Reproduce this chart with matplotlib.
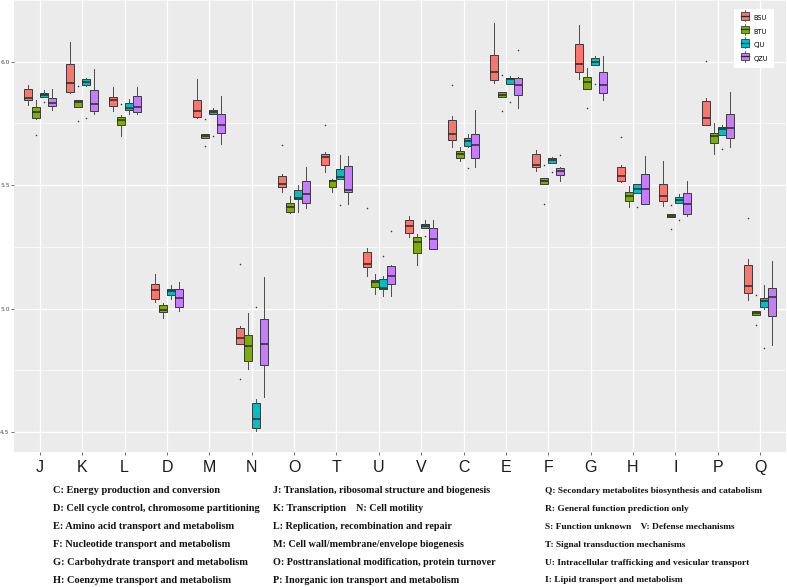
import matplotlib
matplotlib.use("Agg")
import matplotlib.pyplot as plt
from matplotlib.patches import Rectangle
from matplotlib.lines import Line2D
from matplotlib.legend_handler import HandlerBase
import numpy as np

categories = ['J', 'K', 'L', 'D', 'M', 'N', 'O', 'T', 'U', 'V', 'C', 'E', 'F', 'G', 'H', 'I', 'P', 'Q']
groups = ['BSU', 'BTU', 'CJU', 'QZU']
colors = ['#F8766D', '#7CAE00', '#00BFC4', '#C77CFF']

# (whisker low, q1, median, q3, whisker high) per category
bsu_stats = [
    (5.824, 5.846, 5.854, 5.888, 5.904), (5.872, 5.878, 5.915, 5.989, 6.081),
    (5.801, 5.820, 5.843, 5.859, 5.899), (5.028, 5.038, 5.075, 5.100, 5.142),
    (5.771, 5.778, 5.800, 5.843, 5.929), (4.855, 4.855, 4.880, 4.922, 4.930),
    (5.473, 5.492, 5.505, 5.536, 5.546), (5.554, 5.582, 5.616, 5.626, 5.634),
    (5.133, 5.167, 5.180, 5.231, 5.247), (5.288, 5.306, 5.333, 5.358, 5.375),
    (5.656, 5.684, 5.707, 5.763, 5.781), (5.915, 5.926, 5.957, 6.027, 6.157),
    (5.556, 5.573, 5.583, 5.626, 5.642), (5.930, 5.960, 5.992, 6.070, 6.148),
    (5.512, 5.516, 5.536, 5.573, 5.582), (5.415, 5.435, 5.456, 5.503, 5.596),
    (5.745, 5.745, 5.771, 5.839, 5.855), (5.035, 5.065, 5.092, 5.177, 5.200),
]
bsu_out = [[], [], [], [], [], [5.180, 4.714], [5.663], [5.745], [5.408], [],
           [5.904], [], [], [], [5.694], [], [6.003], [5.366]]

btu_stats = [
    (5.766, 5.771, 5.798, 5.816, 5.846), (5.815, 5.815, 5.836, 5.844, 5.844),
    (5.698, 5.742, 5.765, 5.775, 5.783), (4.961, 4.985, 4.996, 5.015, 5.023),
    (5.691, 5.691, 5.699, 5.707, 5.707), (4.757, 4.788, 4.850, 4.891, 4.984),
    (5.386, 5.392, 5.411, 5.429, 5.458), (5.473, 5.492, 5.516, 5.521, 5.525),
    (5.059, 5.086, 5.106, 5.116, 5.140), (5.177, 5.226, 5.270, 5.288, 5.301),
    (5.597, 5.610, 5.626, 5.640, 5.656), (5.858, 5.858, 5.867, 5.876, 5.876),
    (5.504, 5.504, 5.516, 5.528, 5.528), (5.890, 5.890, 5.917, 5.937, 5.976),
    (5.412, 5.435, 5.456, 5.473, 5.496), (5.371, 5.371, 5.376, 5.382, 5.382),
    (5.626, 5.669, 5.700, 5.710, 5.751), (4.973, 4.973, 4.983, 4.992, 4.992),
]
btu_out = [[5.703], [5.902, 5.761], [5.829], [], [5.767, 5.657], [], [], [], [], [],
           [], [5.945, 5.802], [5.583, 5.425], [5.812], [], [5.419, 5.324], [], [5.054, 4.933]]

cju_stats = [
    (5.859, 5.859, 5.866, 5.872, 5.886), (5.902, 5.906, 5.918, 5.929, 5.935),
    (5.788, 5.805, 5.812, 5.832, 5.848), (5.039, 5.056, 5.070, 5.079, 5.094),
    (5.788, 5.788, 5.797, 5.804, 5.812), (4.503, 4.517, 4.552, 4.618, 4.633),
    (5.391, 5.442, 5.449, 5.479, 5.500), (5.523, 5.523, 5.532, 5.567, 5.622),
    (5.051, 5.079, 5.085, 5.120, 5.130), (5.325, 5.325, 5.335, 5.342, 5.360),
    (5.656, 5.660, 5.677, 5.692, 5.707), (5.908, 5.908, 5.929, 5.935, 5.941),
    (5.589, 5.589, 5.600, 5.608, 5.614), (5.987, 5.987, 5.997, 6.016, 6.023),
    (5.469, 5.469, 5.485, 5.505, 5.505), (5.427, 5.427, 5.441, 5.454, 5.465),
    (5.704, 5.704, 5.727, 5.737, 5.745), (5.000, 5.008, 5.032, 5.043, 5.094),
]
cju_out = [[5.836], [5.771], [], [], [5.698], [5.008], [], [5.418], [5.211], [5.292],
           [5.570], [5.836], [5.555], [5.909], [5.411], [5.360], [5.646], [4.842]]

qzu_stats = [
    (5.804, 5.821, 5.832, 5.852, 5.888), (5.788, 5.802, 5.829, 5.887, 5.971),
    (5.789, 5.798, 5.815, 5.862, 5.899), (4.989, 5.005, 5.042, 5.079, 5.109),
    (5.667, 5.712, 5.745, 5.789, 5.862), (4.642, 4.771, 4.858, 4.958, 5.129),
    (5.406, 5.429, 5.465, 5.515, 5.573), (5.425, 5.472, 5.481, 5.577, 5.620),
    (5.052, 5.101, 5.133, 5.172, 5.177), (5.241, 5.241, 5.282, 5.325, 5.360),
    (5.575, 5.610, 5.664, 5.706, 5.805), (5.812, 5.866, 5.906, 5.935, 5.938),
    (5.516, 5.542, 5.556, 5.571, 5.575), (5.843, 5.874, 5.906, 5.960, 6.024),
    (5.425, 5.425, 5.483, 5.546, 5.618), (5.375, 5.382, 5.422, 5.467, 5.515),
    (5.654, 5.691, 5.731, 5.788, 5.879), (4.854, 4.968, 5.046, 5.085, 5.191),
]
qzu_out = [[], [], [], [], [], [], [], [], [5.315], [], [], [6.047], [5.622], [], [], [], [], []]

yticks = [4.5, 5.0, 5.5, 6.0]

legend_col1 = ["C: Energy production and conversion",
               "D: Cell cycle control, chromosome partitioning",
               "E: Amino acid transport and metabolism",
               "F: Nucleotide transport and metabolism",
               "G: Carbohydrate transport and metabolism",
               "H: Coenzyme transport and metabolism"]
legend_col2 = ["J: Translation, ribosomal structure and biogenesis",
               "K: Transcription    N: Cell motility",
               "L: Replication, recombination and repair",
               "M: Cell wall/membrane/envelope biogenesis",
               "O: Posttranslational modification, protein turnover",
               "P: Inorganic ion transport and metabolism"]
legend_col3 = ["Q: Secondary metabolites biosynthesis and catabolism",
               "R: General function prediction only",
               "S: Function unknown    V: Defense mechanisms",
               "T: Signal transduction mechanisms",
               "U: Intracellular trafficking and vesicular transport",
               "I: Lipid transport and metabolism"]

W, H = 787, 587
fig = plt.figure(figsize=(W / 100, H / 100), dpi=100)
ax = fig.add_axes([14.5 / W, 1 - 452 / H, 771 / W, 452 / H])
ax.set_facecolor('#EBEBEB')
for s in ax.spines.values():
    s.set_visible(False)

all_stats = [bsu_stats, btu_stats, cju_stats, qzu_stats]
all_out = [bsu_out, btu_out, cju_out, qzu_out]
offsets = [-0.28125, -0.09375, 0.09375, 0.28125]
bw = 0.1875
x = np.arange(len(categories))
for g, (st, outs, c, off) in enumerate(zip(all_stats, all_out, colors, offsets)):
    bstats = [dict(whislo=a, q1=b, med=m, q3=d, whishi=e, fliers=f)
              for (a, b, m, d, e), f in zip(st, outs)]
    ax.bxp(bstats, positions=x + off, widths=bw, patch_artist=True, showcaps=False,
           manage_ticks=False,
           boxprops=dict(facecolor=c, edgecolor='#3A3A3A', lw=0.7),
           medianprops=dict(color='#2A2A2A', lw=1.1),
           whiskerprops=dict(color='#4A4A4A', lw=0.7),
           flierprops=dict(marker='o', ms=1.1, markerfacecolor='#333333',
                           markeredgecolor='none'),
           zorder=3)

ax.set_xlim(-0.6, len(categories) - 0.4)
ax.set_ylim(4.419, 6.242)
ax.set_yticks(yticks)
ax.set_yticks([4.75, 5.25, 5.75, 6.25], minor=True)
ax.set_xticks(x)
ax.set_xticks([], minor=True)
ax.set_xticklabels(categories, fontsize=11.5, family='Liberation Sans', color='#1A1A1A')
ax.set_yticklabels([f"{v:.1f}" for v in yticks], fontsize=4.3, color='#4D4D4D')
ax.tick_params(axis='both', which='major', length=2.5, width=0.5, color='#333333', pad=1.5)
ax.tick_params(axis='y', pad=1.0)
ax.tick_params(axis='x', pad=3)
ax.tick_params(axis='y', which='minor', length=0)
ax.grid(True, which='major', color='white', lw=1.0)
ax.grid(True, which='minor', axis='y', color='white', lw=0.5)
ax.set_axisbelow(True)


class BoxKey(HandlerBase):
    def create_artists(self, legend, orig, xd, yd, width, height, fontsize, trans):
        c = orig.get_facecolor()
        cx = xd + width / 2
        r = Rectangle((xd + width * 0.1, yd - height * 0.05), width * 0.8, height * 1.1,
                      facecolor=c, edgecolor='#3A3A3A', lw=0.6, transform=trans)
        m = Line2D([xd + width * 0.1, xd + width * 0.9], [yd + height * 0.5] * 2,
                   color='#2A2A2A', lw=0.9, transform=trans)
        w1 = Line2D([cx, cx], [yd + height * 1.05, yd + height * 1.3], color='#4A4A4A',
                    lw=0.6, transform=trans)
        w2 = Line2D([cx, cx], [yd - height * 0.05, yd - height * 0.3], color='#4A4A4A',
                    lw=0.6, transform=trans)
        return [r, m, w1, w2]


handles = [Rectangle((0, 0), 1, 1, facecolor=c) for c in colors]
leg = ax.legend(handles, groups, loc='upper right', bbox_to_anchor=(0.99, 0.988),
                handler_map={Rectangle: BoxKey()}, fontsize=4.8, frameon=True,
                fancybox=False, framealpha=1, edgecolor='white', handlelength=1.6,
                handleheight=1.2, labelspacing=1.0, borderpad=0.9, handletextpad=0.5)
leg.get_frame().set_linewidth(0)
leg.set_zorder(5)

row_y = [490.7, 508.7, 526.7, 544.7, 562.7, 580.3]
col_x = [53, 273, 545]
col_fs = [7.45, 7.3, 6.75]
for cx, col, fs in zip(col_x, [legend_col1, legend_col2, legend_col3], col_fs):
    for ry, txt in zip(row_y, col):
        fig.text(cx / W, 1 - ry / H, txt, family='Liberation Serif', fontweight='bold',
                 fontsize=fs, va='center', ha='left', color='#111111')

fig.savefig('out.png', dpi=100, facecolor='white')
